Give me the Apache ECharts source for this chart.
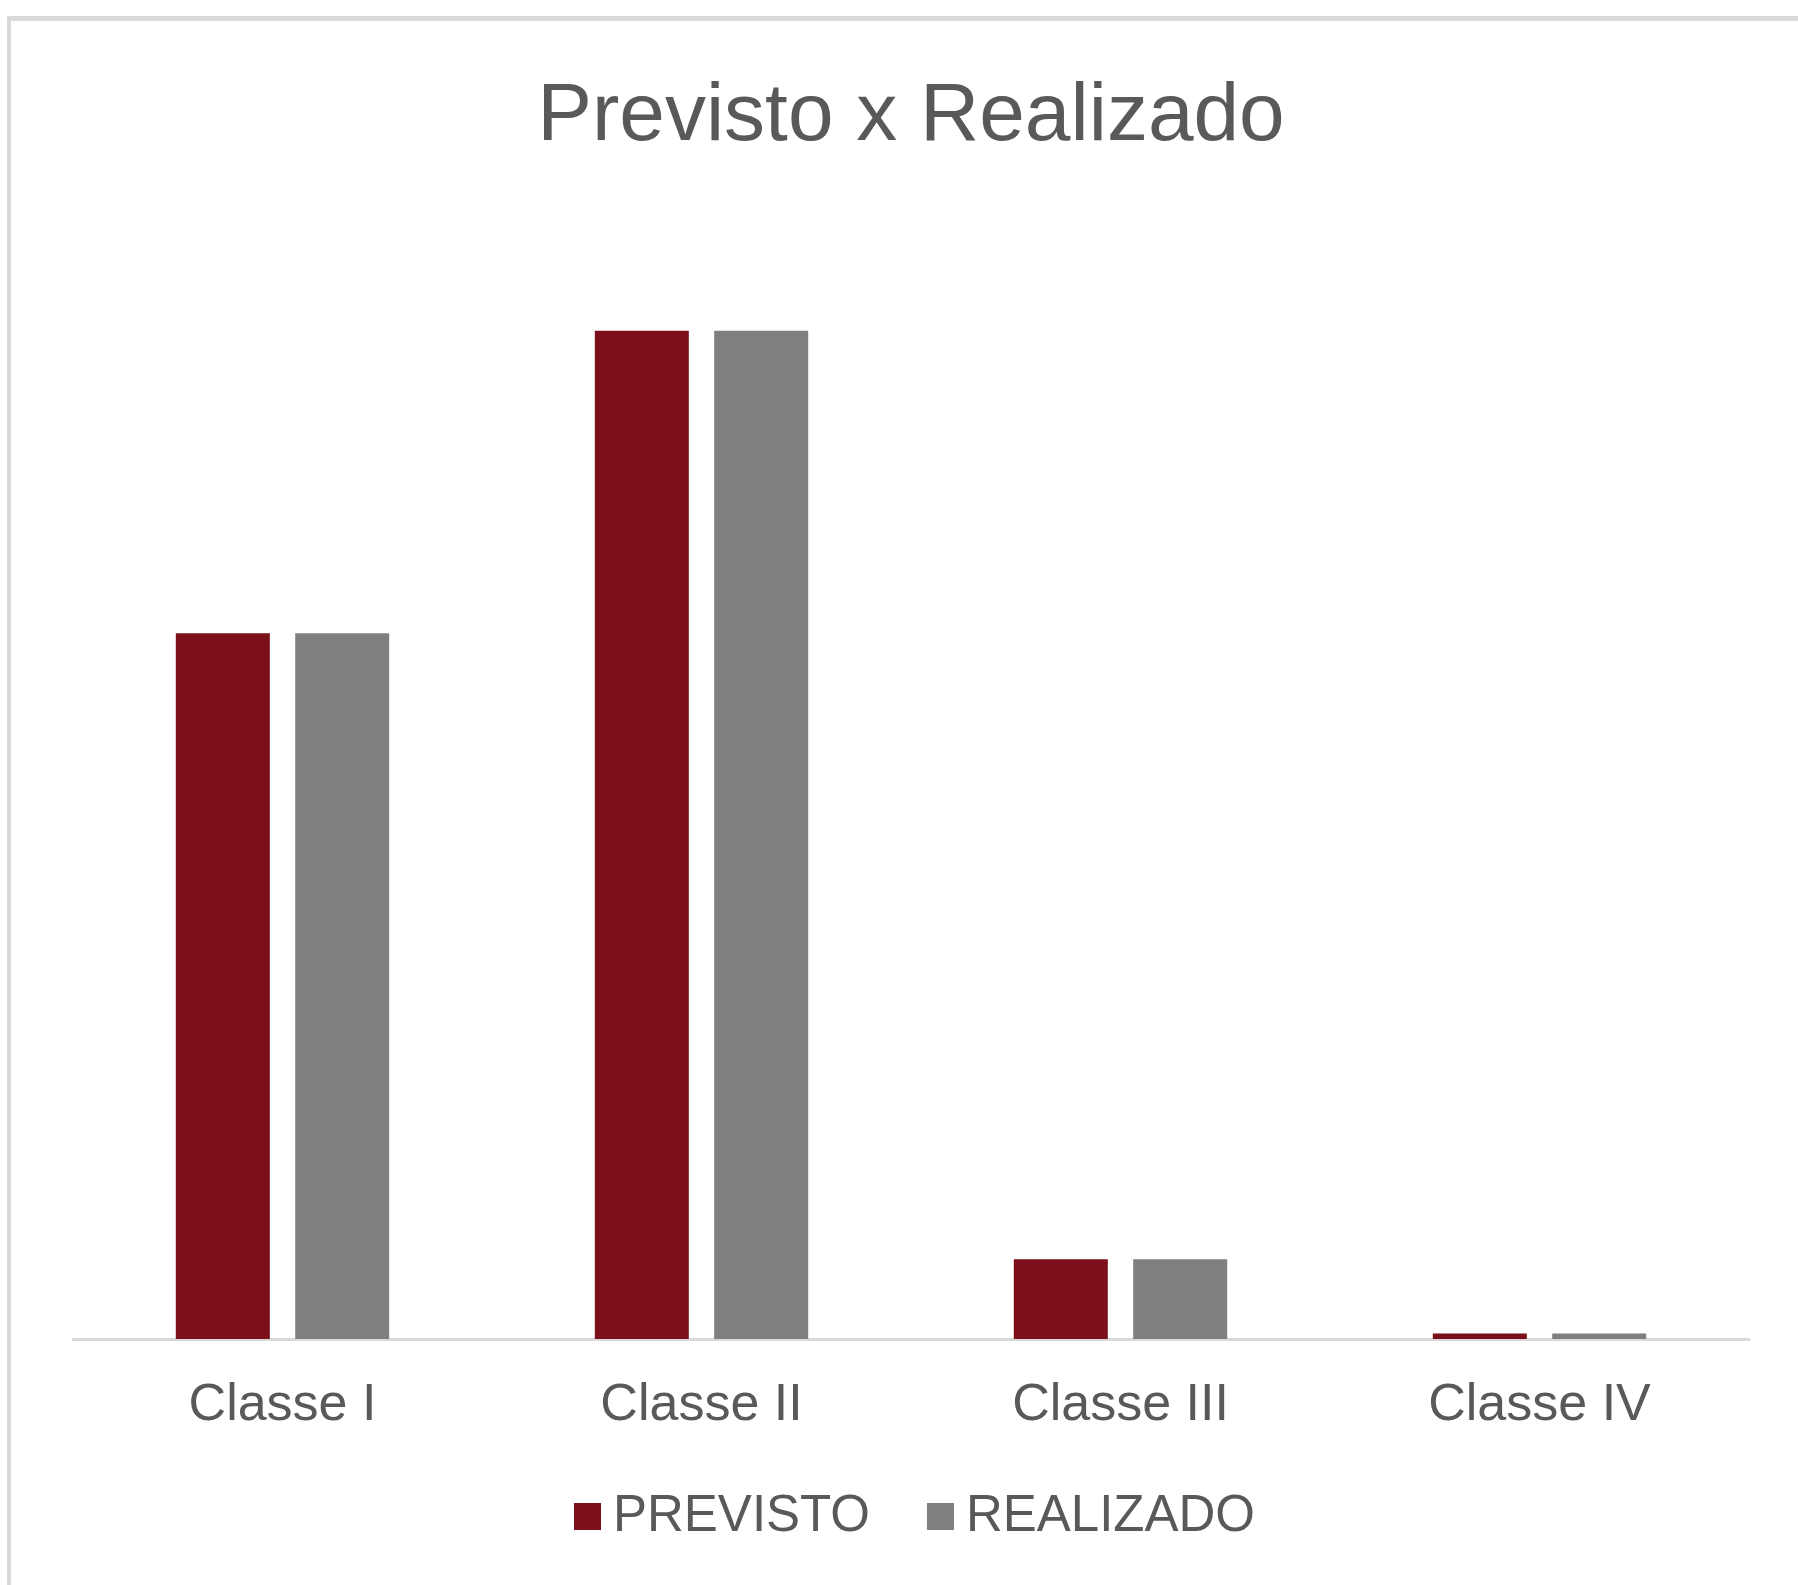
<!DOCTYPE html>
<html>
<head>
<meta charset="utf-8">
<script src="https://cdn.jsdelivr.net/npm/echarts@6/dist/echarts.min.js"></script>
<style>
html,body{margin:0;padding:0;background:#fff;}
#chart{width:1798px;height:1585px;}
</style>
</head>
<body>
<div id="chart"></div>
<script>
var categories = ['Classe I', 'Classe II', 'Classe III', 'Classe IV'];
var previsto = [70, 100, 7.9, 0.55];
var realizado = [70, 100, 7.9, 0.55];
var seriesNames = ['PREVISTO', 'REALIZADO'];

var chart = echarts.init(document.getElementById('chart'));
var font = 'Liberation Sans';
chart.setOption({
  backgroundColor: '#ffffff',
  animation: false,
  title: {
    text: 'Previsto x Realizado',
    left: 906,
    textAlign: 'center',
    top: 71,
    textStyle: { fontFamily: font, fontSize: 82, fontWeight: 'normal', color: '#595959' }
  },
  legend: {
    data: seriesNames,
    left: 569,
    top: 1486,
    icon: 'rect',
    itemWidth: 27,
    itemHeight: 27,
    itemGap: 57,
    textStyle: { fontFamily: font, fontSize: 51, color: '#595959', padding: [0, 0, 0, 7] }
  },
  grid: { left: 73, right: 49, top: 129, bottom: 246, containLabel: false },
  xAxis: {
    type: 'category',
    data: categories,
    axisLine: { show: true, lineStyle: { color: '#d9d9d9', width: 3 } },
    axisTick: { show: false },
    axisLabel: { fontFamily: font, fontSize: 52, color: '#595959', margin: 41 }
  },
  yAxis: {
    type: 'value',
    min: 0,
    max: 120,
    show: false,
    splitLine: { show: false }
  },
  series: [
    { name: seriesNames[0], type: 'bar', data: previsto, barWidth: 94, barGap: '27%', itemStyle: { color: '#7b0f1a' } },
    { name: seriesNames[1], type: 'bar', data: realizado, barWidth: 94, barGap: '27%', itemStyle: { color: '#7f7f7f' } }
  ],
  graphic: [
    { type: 'line', shape: { x1: 7, y1: 18.5, x2: 1798, y2: 18.5 }, style: { stroke: '#d9d9d9', lineWidth: 5 } },
    { type: 'line', shape: { x1: 9, y1: 16, x2: 9, y2: 1585 }, style: { stroke: '#d9d9d9', lineWidth: 4 } }
  ]
});
</script>
</body>
</html>
